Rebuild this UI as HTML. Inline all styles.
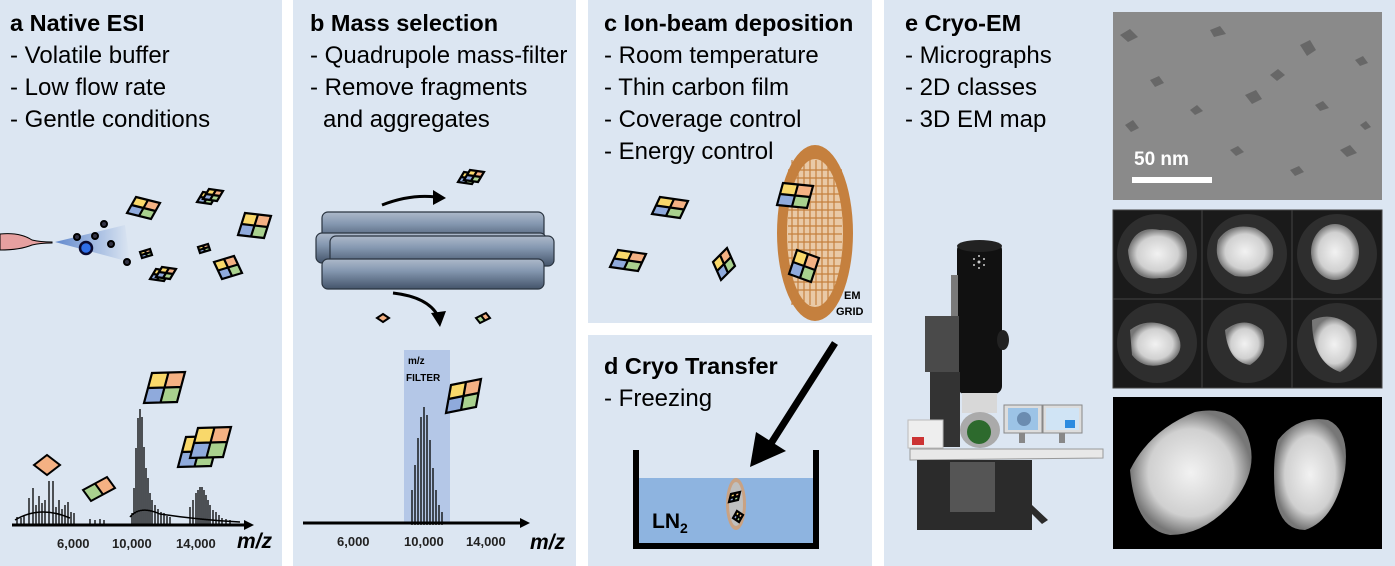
<!DOCTYPE html>
<html><head><meta charset="utf-8"><style>
html,body{margin:0;padding:0;background:#fff}
svg{display:block}
text{font-family:"Liberation Sans",Arial,sans-serif}
.h{font-size:23.5px;font-weight:bold}
.l{font-size:24px}
</style></head><body>
<svg width="1395" height="566" viewBox="0 0 1395 566" xmlns="http://www.w3.org/2000/svg">
<defs>
<g id="q">
<rect x="0" y="0" width=".5" height=".5" fill="#f9d86a"/>
<rect x=".5" y="0" width=".5" height=".5" fill="#f4b183"/>
<rect x="0" y=".5" width=".5" height=".5" fill="#8faadc"/>
<rect x=".5" y=".5" width=".5" height=".5" fill="#a9d18e"/>
<path d="M0 0H1V1H0Z M.5 0V1 M0 .5H1" fill="none" stroke="#000" stroke-width="2.2" vector-effect="non-scaling-stroke"/>
</g>
<g id="h2">
<rect x="0" y="0" width=".5" height="1" fill="#a9d18e"/>
<rect x=".5" y="0" width=".5" height="1" fill="#f4b183"/>
<path d="M0 0H1V1H0Z M.5 0V1" fill="none" stroke="#000" stroke-width="2" vector-effect="non-scaling-stroke"/>
</g>
<g id="m1">
<rect x="0" y="0" width="1" height="1" fill="#f4b183" stroke="#000" stroke-width="2" vector-effect="non-scaling-stroke"/>
</g>
<linearGradient id="rod" x1="0" y1="0" x2="0" y2="1">
<stop offset="0" stop-color="#adb9ca"/><stop offset=".4" stop-color="#8497b0"/><stop offset="1" stop-color="#44546a"/>
</linearGradient>
<radialGradient id="blob"><stop offset="0" stop-color="#f2f2f2"/><stop offset=".7" stop-color="#d0d0d0"/><stop offset="1" stop-color="#777"/></radialGradient>
<linearGradient id="spray" x1="0" y1="0" x2="1" y2="0"><stop offset="0" stop-color="#4472c4" stop-opacity=".8"/><stop offset="1" stop-color="#4472c4" stop-opacity="0"/></linearGradient>
</defs>

<rect x="0" y="0" width="282" height="566" fill="#dce6f2"/>
<rect x="293" y="0" width="283" height="566" fill="#dce6f2"/>
<rect x="588" y="0" width="284" height="323" fill="#dce6f2"/>
<rect x="588" y="335" width="284" height="231" fill="#dce6f2"/>
<rect x="884" y="0" width="511" height="566" fill="#dce6f2"/>

<text x="10" y="31" class="h">a Native ESI</text>
<text x="10" y="63" class="l">- Volatile buffer</text>
<text x="10" y="95" class="l">- Low flow rate</text>
<text x="10" y="127" class="l">- Gentle conditions</text>

<path d="M0 234 Q20 232 32 240 Q40 242 52 242 L52 243 Q40 243 32 245 Q20 250 0 250Z" fill="#e6a0a0" stroke="#000" stroke-width="1"/>
<path d="M55 242 L125 225 L130 262Z" fill="url(#spray)"/>
<circle cx="86" cy="248" r="6" fill="#2f6fe8" stroke="#0a0a30" stroke-width="2.5"/>
<circle cx="77" cy="237" r="3" fill="#334" stroke="#000" stroke-width="2"/>
<circle cx="95" cy="236" r="3" fill="#334" stroke="#000" stroke-width="2"/>
<circle cx="104" cy="224" r="3" fill="#334" stroke="#000" stroke-width="2"/>
<circle cx="111" cy="244" r="3" fill="#334" stroke="#000" stroke-width="2"/>
<circle cx="127" cy="262" r="3" fill="#334" stroke="#000" stroke-width="2"/>
<use href="#q" transform="matrix(24,6,-9,16,136,197)"/>
<use href="#q" transform="matrix(14,2,-6,10,203,192)"/>
<use href="#q" transform="matrix(14,2,-6,10,209,189)"/>
<use href="#q" transform="matrix(26,3,-7,22,245,213)"/>
<use href="#q" transform="matrix(10,-3,2,6,140,252)"/>
<use href="#q" transform="matrix(10,-3,2,6,198,247)"/>
<use href="#q" transform="matrix(20,-6,8,17,214,262)"/>
<use href="#q" transform="matrix(14,2,-6,10,156,269)"/>
<use href="#q" transform="matrix(14,2,-6,10,162,267)"/>

<g stroke="#000" stroke-width="1.3">
<path d="M17 525V517M21 525V518M24 525V515M29 525V498M33 525V488M36 525V505M39 525V496M42 525V503M45 525V500M49 525V481M53 525V481M56 525V507M59 525V500M62 525V509M65 525V505M68 525V502M71 525V512M74 525V513M90 525V519M95 525V520M100 525V519M104 525V520"/>
<path d="M132 525V513M134 525V488M136 525V448M138 525V418M140 525V409M142 525V417M144 525V447M146 525V468M148 525V478M150 525V493M152 525V500M155 525V505M158 525V509M161 525V512M164 525V513M167 525V516M170 525V517"/>
<path d="M190 525V507M193 525V500M196 525V493M198 525V490M200 525V487M202 525V487M204 525V490M206 525V495M208 525V500M210 525V505M213 525V510M216 525V512M219 525V515M222 525V518M226 525V519M230 525V520"/>
</g>
<path d="M15 520 Q40 505 70 518 M130 517 Q140 505 160 514 Q200 520 240 522" fill="none" stroke="#000" stroke-width="1.5"/>
<path d="M12 525H246" stroke="#000" stroke-width="3"/>
<path d="M244 520L254 525L244 530Z" fill="#000"/>
<text x="57" y="548" font-size="13" font-weight="bold" fill="#222">6,000</text>
<text x="112" y="548" font-size="13" font-weight="bold" fill="#222">10,000</text>
<text x="176" y="548" font-size="13" font-weight="bold" fill="#222">14,000</text>
<text x="237" y="548" font-size="21" font-weight="bold" font-style="italic">m/z</text>
<use href="#m1" transform="matrix(13,-10,13,10,34,465)"/>
<use href="#h2" transform="matrix(24,-13,8,11,83,490)"/>
<use href="#q" transform="matrix(33,-1,-8,30,152,373)"/>
<use href="#q" transform="matrix(33,-1,-8,30,186,437)"/>
<use href="#q" transform="matrix(33,-1,-8,30,198,428)"/>

<text x="310" y="31" class="h">b Mass selection</text>
<text x="310" y="63" class="l">- Quadrupole mass-filter</text>
<text x="310" y="95" class="l">- Remove fragments</text>
<text x="323" y="127" class="l">and aggregates</text>
<g stroke="#2a3440" stroke-width="1.2">
<rect x="322" y="212" width="222" height="30" rx="6" fill="url(#rod)"/>
<rect x="316" y="233" width="230" height="30" rx="6" fill="url(#rod)"/>
<rect x="330" y="236" width="224" height="30" rx="6" fill="url(#rod)"/>
<rect x="322" y="259" width="222" height="30" rx="6" fill="url(#rod)"/>
</g>
<path d="M382 205 Q410 194 436 197" fill="none" stroke="#000" stroke-width="3"/>
<path d="M433 190L446 198L433 205Z" fill="#000"/>
<path d="M393 293 Q428 297 438 316" fill="none" stroke="#000" stroke-width="3"/>
<path d="M431 313L440 327L446 311Z" fill="#000"/>
<use href="#q" transform="matrix(14,2,-6,10,464,172)"/>
<use href="#q" transform="matrix(14,2,-6,10,470,170)"/>
<use href="#m1" transform="matrix(6,-4,6,4,377,318)"/>
<use href="#h2" transform="matrix(10,-5,4,5,476,318)"/>
<rect x="404" y="350" width="46" height="174" fill="#b4c7e7"/>
<text x="408" y="364" font-size="10" font-weight="bold">m/z</text>
<text x="406" y="381" font-size="10" font-weight="bold">FILTER</text>
<g stroke="#000" stroke-width="1.3">
<path d="M412 525V490M415 525V465M418 525V438M421 525V417M424 525V407M427 525V415M430 525V440M433 525V468M436 525V490M439 525V505M442 525V512"/>
</g>
<path d="M303 523H522" stroke="#000" stroke-width="3"/>
<path d="M520 518L530 523L520 528Z" fill="#000"/>
<text x="337" y="546" font-size="13" font-weight="bold" fill="#222">6,000</text>
<text x="404" y="546" font-size="13" font-weight="bold" fill="#222">10,000</text>
<text x="466" y="546" font-size="13" font-weight="bold" fill="#222">14,000</text>
<text x="530" y="549" font-size="21" font-weight="bold" font-style="italic">m/z</text>
<use href="#q" transform="matrix(30,-6,-5,28,451,385)"/>

<text x="604" y="31" class="h">c Ion-beam deposition</text>
<text x="604" y="63" class="l">- Room temperature</text>
<text x="604" y="95" class="l">- Thin carbon film</text>
<text x="604" y="127" class="l">- Coverage control</text>
<text x="604" y="159" class="l">- Energy control</text>
<ellipse cx="815" cy="233" rx="38" ry="88" fill="#c5803e"/>
<ellipse cx="815" cy="233" rx="28" ry="74" fill="#e9c9a6"/>
<g stroke="#c5803e" stroke-width="1.2">
<path d="M788 170H842M788 178H842M788 186H842M788 194H842M788 202H842M788 210H842M788 218H842M788 226H842M788 234H842M788 242H842M788 250H842M788 258H842M788 266H842M788 274H842M788 282H842M788 290H842"/>
<path d="M792 160V305M798 160V305M804 160V305M810 160V305M816 160V305M822 160V305M828 160V305M834 160V305"/>
</g>
<use href="#q" transform="matrix(30,3,-6,22,783,183)"/>
<use href="#q" transform="matrix(22,8,-8,24,797,250)"/>
<text x="844" y="299" font-size="11" font-weight="bold">EM</text>
<text x="836" y="315" font-size="11" font-weight="bold">GRID</text>
<use href="#q" transform="matrix(28,4,-8,17,660,197)"/>
<use href="#q" transform="matrix(28,4,-8,17,618,250)"/>
<use href="#q" transform="matrix(14,-14,8,18,713,262)"/>

<text x="604" y="374" class="h">d Cryo Transfer</text>
<text x="604" y="406" class="l">- Freezing</text>
<path d="M835 343 L770 445" stroke="#000" stroke-width="7"/>
<path d="M750 467 L756 432 L786 451Z" fill="#000"/>
<rect x="638" y="478" width="176" height="65" fill="#8eb4e0"/>
<path d="M636 450V546H816V450" fill="none" stroke="#000" stroke-width="6"/>
<ellipse cx="736" cy="504" rx="10" ry="26" fill="#c9a283"/>
<ellipse cx="736" cy="504" rx="7" ry="22" fill="#bfbfbf"/>
<use href="#q" transform="matrix(9,-2,-2,8,731,494)"/>
<use href="#q" transform="matrix(6,4,-4,7,737,511)"/>
<text x="652" y="528" font-size="21" font-weight="bold">LN<tspan font-size="14" dy="5">2</tspan></text>

<text x="905" y="31" class="h">e Cryo-EM</text>
<text x="905" y="63" class="l">- Micrographs</text>
<text x="905" y="95" class="l">- 2D classes</text>
<text x="905" y="127" class="l">- 3D EM map</text>

<rect x="957" y="242" width="45" height="152" rx="8" fill="#111"/>
<ellipse cx="979.5" cy="246" rx="22.5" ry="6" fill="#222"/>
<g fill="#ccc"><circle cx="979" cy="262" r="1.5"/><circle cx="974" cy="259" r="1"/><circle cx="984" cy="259" r="1"/><circle cx="974" cy="265" r="1"/><circle cx="984" cy="265" r="1"/><circle cx="979" cy="256" r="1"/><circle cx="979" cy="268" r="1"/></g>
<rect x="951" y="275" width="7" height="80" fill="#7a7a7a"/>
<rect x="925" y="316" width="34" height="56" fill="#4a4a4a"/>
<rect x="930" y="372" width="30" height="75" fill="#333"/>
<ellipse cx="1003" cy="340" rx="6" ry="10" fill="#222"/>
<rect x="962" y="393" width="35" height="20" fill="#d8d8d8"/>
<ellipse cx="980" cy="430" rx="20" ry="18" fill="#aaa"/>
<ellipse cx="979" cy="432" rx="12" ry="12" fill="#2d6a2d"/>
<rect x="908" y="420" width="35" height="28" fill="#eee" stroke="#bbb"/>
<rect x="912" y="437" width="12" height="8" fill="#c33"/>
<rect x="1004" y="405" width="38" height="28" fill="#ddd" stroke="#888"/>
<rect x="1008" y="408" width="30" height="22" fill="#9cc3e6"/>
<circle cx="1024" cy="419" r="7" fill="#6b8cb0"/>
<rect x="1043" y="405" width="39" height="28" fill="#ddd" stroke="#888"/>
<rect x="1046" y="408" width="33" height="22" fill="#d0e4f5"/>
<rect x="1065" y="420" width="10" height="8" fill="#2b8be0"/>
<rect x="1019" y="433" width="6" height="10" fill="#888"/><rect x="1059" y="433" width="6" height="10" fill="#888"/>
<path d="M910 449 L1103 449 L1103 458 L910 460Z" fill="#e8e8e8" stroke="#999"/>
<rect x="917" y="460" width="115" height="70" fill="#2b2b2b"/>
<rect x="950" y="462" width="45" height="50" fill="#555"/>
<path d="M1032 505 L1048 520 L1042 524 L1030 512Z" fill="#2b2b2b"/>

<rect x="1113" y="12" width="269" height="188" fill="#8a8a8a"/>
<g fill="#5f5f5f" opacity=".8">
<path d="M1120 35l10-6 8 8-10 5z"/><path d="M1210 30l10-4 6 8-12 3z"/><path d="M1300 45l10-5 6 10-9 6z"/>
<path d="M1245 95l11-5 6 9-10 5z"/><path d="M1270 75l8-6 7 6-8 6z"/><path d="M1150 80l9-4 5 7-9 4z"/>
<path d="M1315 105l8-4 6 7-9 3z"/><path d="M1190 110l7-5 6 6-8 4z"/><path d="M1340 150l10-5 7 8-10 4z"/>
<path d="M1355 60l8-4 5 7-8 3z"/><path d="M1125 125l8-5 6 8-8 4z"/><path d="M1290 170l9-4 5 6-9 4z"/>
<path d="M1230 150l8-4 6 6-8 4z"/><path d="M1360 125l6-4 5 6-6 3z"/>
</g>
<text x="1134" y="165" font-size="19" font-weight="bold" fill="#fff">50 nm</text>
<rect x="1132" y="177" width="80" height="6" fill="#fff"/>

<rect x="1113" y="210" width="269" height="178" fill="#111"/>
<g stroke="#444" stroke-width="1">
<rect x="1113" y="210" width="89" height="89" fill="#1a1a1a"/><rect x="1202" y="210" width="90" height="89" fill="#1a1a1a"/><rect x="1292" y="210" width="90" height="89" fill="#1a1a1a"/>
<rect x="1113" y="299" width="89" height="89" fill="#1a1a1a"/><rect x="1202" y="299" width="90" height="89" fill="#1a1a1a"/><rect x="1292" y="299" width="90" height="89" fill="#1a1a1a"/>
</g>
<g fill="#2e2e2e"><circle cx="1157" cy="254" r="40"/><circle cx="1247" cy="254" r="40"/><circle cx="1337" cy="254" r="40"/><circle cx="1157" cy="343" r="40"/><circle cx="1247" cy="343" r="40"/><circle cx="1337" cy="343" r="40"/></g>
<g fill="url(#blob)">
<path d="M1128 250 Q1135 225 1160 230 Q1185 228 1187 252 Q1188 280 1160 278 Q1130 282 1128 250Z"/>
<path d="M1218 240 Q1230 222 1255 228 Q1278 240 1272 260 Q1260 280 1235 276 Q1212 265 1218 240Z"/>
<ellipse cx="1335" cy="252" rx="24" ry="28"/>
<path d="M1130 330 Q1150 315 1175 330 Q1188 350 1170 362 Q1145 372 1132 355Z"/>
<path d="M1225 330 Q1245 315 1262 330 Q1270 352 1250 365 Q1228 362 1225 330Z"/>
<path d="M1312 320 Q1335 310 1355 330 Q1362 360 1340 372 Q1312 362 1312 320Z"/>
</g>

<rect x="1113" y="397" width="269" height="152" fill="#000"/>
<path d="M1130 470 Q1150 430 1195 412 Q1230 405 1245 430 Q1262 465 1235 500 Q1205 535 1170 535 Q1135 530 1130 470Z" fill="url(#blob)"/>
<path d="M1278 440 Q1298 415 1328 420 Q1350 430 1345 470 Q1335 520 1305 530 Q1280 530 1275 495 Q1272 460 1278 440Z" fill="url(#blob)"/>
</svg>
</body></html>
